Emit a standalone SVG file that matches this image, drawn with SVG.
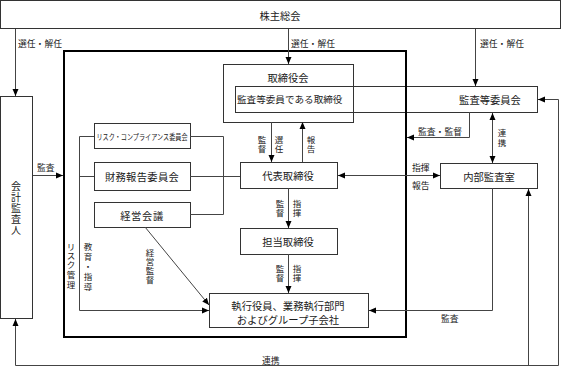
<svg xmlns="http://www.w3.org/2000/svg" width="561" height="368" viewBox="0 0 561 368">
<style>
text{font-family:"Noto Sans CJK JP","Noto Sans CJK SC",sans-serif;fill:#1a1a1a}
.box{fill:none;stroke:#333;stroke-width:1}
.big{fill:none;stroke:#000;stroke-width:2}
.ln{fill:none;stroke:#444;stroke-width:1}
.t10{font-size:10.3px;text-anchor:middle;dominant-baseline:central}
.lb{font-size:8.8px;dominant-baseline:central}
.v{font-size:8.5px;text-anchor:middle;dominant-baseline:central}
.vb{font-size:10px;text-anchor:middle;dominant-baseline:central}
</style>
<defs>
<marker id="a" markerUnits="userSpaceOnUse" markerWidth="8" markerHeight="8" viewBox="0 0 8 8" refX="7" refY="4" orient="auto"><path d="M0,1 L7,4 L0,7 Z" fill="#000"/></marker>
<marker id="s" markerUnits="userSpaceOnUse" markerWidth="8" markerHeight="8" viewBox="0 0 8 8" refX="7" refY="4" orient="auto-start-reverse"><path d="M0,1 L7,4 L0,7 Z" fill="#000"/></marker>
</defs>

<g id="shareholders">
<rect class="box" x="0.5" y="0.5" width="560" height="28"/>
<text class="t10" x="280" y="15">株主総会</text>
</g>

<g id="auditor">
<rect class="box" x="0.5" y="96.5" width="32" height="222"/>
<text class="vb" x="16" y="185">会</text>
<text class="vb" x="16" y="196">計</text>
<text class="vb" x="16" y="207">監</text>
<text class="vb" x="16" y="218">査</text>
<text class="vb" x="16" y="229">人</text>
</g>

<g id="board">
<rect class="box" x="223.5" y="64.5" width="130" height="58"/>
<text class="t10" x="288" y="77">取締役会</text>
</g>

<g id="audit-committee">
<rect class="box" x="235.5" y="86.5" width="302" height="26"/>
<text class="lb" x="237" y="99" style="font-size:9.6px">監査等委員である取締役</text>
<text class="t10" x="490" y="99">監査等委員会</text>
</g>

<g id="group-frame">
<rect class="big" x="64" y="51" width="342" height="286"/>
</g>

<g id="risk-committee">
<rect class="box" x="94.5" y="123.5" width="96" height="25"/>
<text x="142" y="136" style="font-size:8px;text-anchor:middle;dominant-baseline:central" textLength="91" lengthAdjust="spacingAndGlyphs">リスク・コンプライアンス委員会</text>
</g>

<g id="financial-committee">
<rect class="box" x="94.5" y="162.5" width="96" height="28"/>
<text class="t10" x="142" y="176" style="letter-spacing:0.3px">財務報告委員会</text>
</g>

<g id="management-meeting">
<rect class="box" x="94.5" y="202.5" width="96" height="25"/>
<text class="t10" x="142" y="215" style="letter-spacing:0.6px">経営会議</text>
</g>

<g id="representative">
<rect class="box" x="240.5" y="162.5" width="97" height="26"/>
<text class="t10" x="288" y="175">代表取締役</text>
</g>

<g id="director-in-charge">
<rect class="box" x="240.5" y="228.5" width="97" height="26"/>
<text class="t10" x="288" y="241">担当取締役</text>
</g>

<g id="executives">
<rect class="box" x="209.5" y="293.5" width="159" height="34"/>
<text class="t10" x="288" y="305">執行役員、業務執行部門</text>
<text class="t10" x="288" y="319">およびグループ子会社</text>
</g>

<g id="internal-audit">
<rect class="box" x="440.5" y="163.5" width="97" height="25"/>
<text class="t10" x="489" y="176">内部監査室</text>
</g>

<g id="connectors">
<path class="ln" d="M15.5,29 V96" marker-end="url(#a)"/>
<path class="ln" d="M288.5,29 V64" marker-end="url(#a)"/>
<path class="ln" d="M475.5,29 V86" marker-end="url(#a)"/>
<path class="ln" d="M33,175.5 H63" marker-end="url(#a)"/>
<path class="ln" d="M94,136.5 H79.5 V310.5 H209" marker-end="url(#a)"/>
<path class="ln" d="M79.5,176.5 H94"/>
<path class="ln" d="M190,136.5 H223.5 V214.5 H190"/>
<path class="ln" d="M190,176.5 H240"/>
<path class="ln" d="M145,227 L209,305" marker-end="url(#a)"/>
<path class="ln" d="M271.5,122 V162" marker-end="url(#a)"/>
<path class="ln" d="M302.5,162 V122" marker-end="url(#a)"/>
<path class="ln" d="M288.5,188 V228" marker-end="url(#a)"/>
<path class="ln" d="M288.5,254 V293" marker-end="url(#a)"/>
<path class="ln" d="M338,175.5 H440" marker-start="url(#s)" marker-end="url(#a)"/>
<path class="ln" d="M469.5,112 V137.5 H407" marker-end="url(#a)"/>
<path class="ln" d="M492.5,113 V163" marker-start="url(#s)" marker-end="url(#a)"/>
<path class="ln" d="M492.5,188 V310.5 H369" marker-end="url(#a)"/>
<path class="ln" d="M558.5,99.5 H538" marker-end="url(#a)"/>
<path class="ln" d="M558.5,99.5 V365.5 H15.5 V319" marker-end="url(#a)"/>
<path class="ln" d="M528.5,365.5 V189" marker-end="url(#a)"/>
</g>

<g id="labels">
<text class="lb" x="18" y="43">選任・解任</text>
<text class="lb" x="291" y="43">選任・解任</text>
<text class="lb" x="480" y="43">選任・解任</text>
<text class="lb" x="37" y="167">監査</text>
<text class="lb" x="418" y="131">監査・監督</text>
<text class="lb" x="412" y="167">指揮</text>
<text class="lb" x="412" y="185">報告</text>
<text class="lb" x="441" y="318">監査</text>
<text class="lb" x="262" y="360">連携</text>
<text class="v" x="262" y="139">監</text><text class="v" x="262" y="148">督</text>
<text class="v" x="279" y="139">選</text><text class="v" x="279" y="148">任</text>
<text class="v" x="311" y="139">報</text><text class="v" x="311" y="148">告</text>
<text class="v" x="280" y="203">監</text><text class="v" x="280" y="212">督</text>
<text class="v" x="297" y="203">指</text><text class="v" x="297" y="212">揮</text>
<text class="v" x="280" y="268">監</text><text class="v" x="280" y="277">督</text>
<text class="v" x="297" y="268">指</text><text class="v" x="297" y="277">揮</text>
<text class="v" x="502" y="132">連</text><text class="v" x="502" y="142">携</text>
<text class="v" x="71" y="246">リ</text><text class="v" x="71" y="255">ス</text><text class="v" x="71" y="264">ク</text><text class="v" x="71" y="274">管</text><text class="v" x="71" y="284">理</text>
<text class="v" x="88" y="246">教</text><text class="v" x="88" y="256">育</text><text class="v" x="88" y="266">・</text><text class="v" x="88" y="276">指</text><text class="v" x="88" y="286">導</text>
<text class="v" x="150" y="252">経</text><text class="v" x="150" y="261">営</text><text class="v" x="150" y="270">監</text><text class="v" x="150" y="279">督</text>
</g>
</svg>
